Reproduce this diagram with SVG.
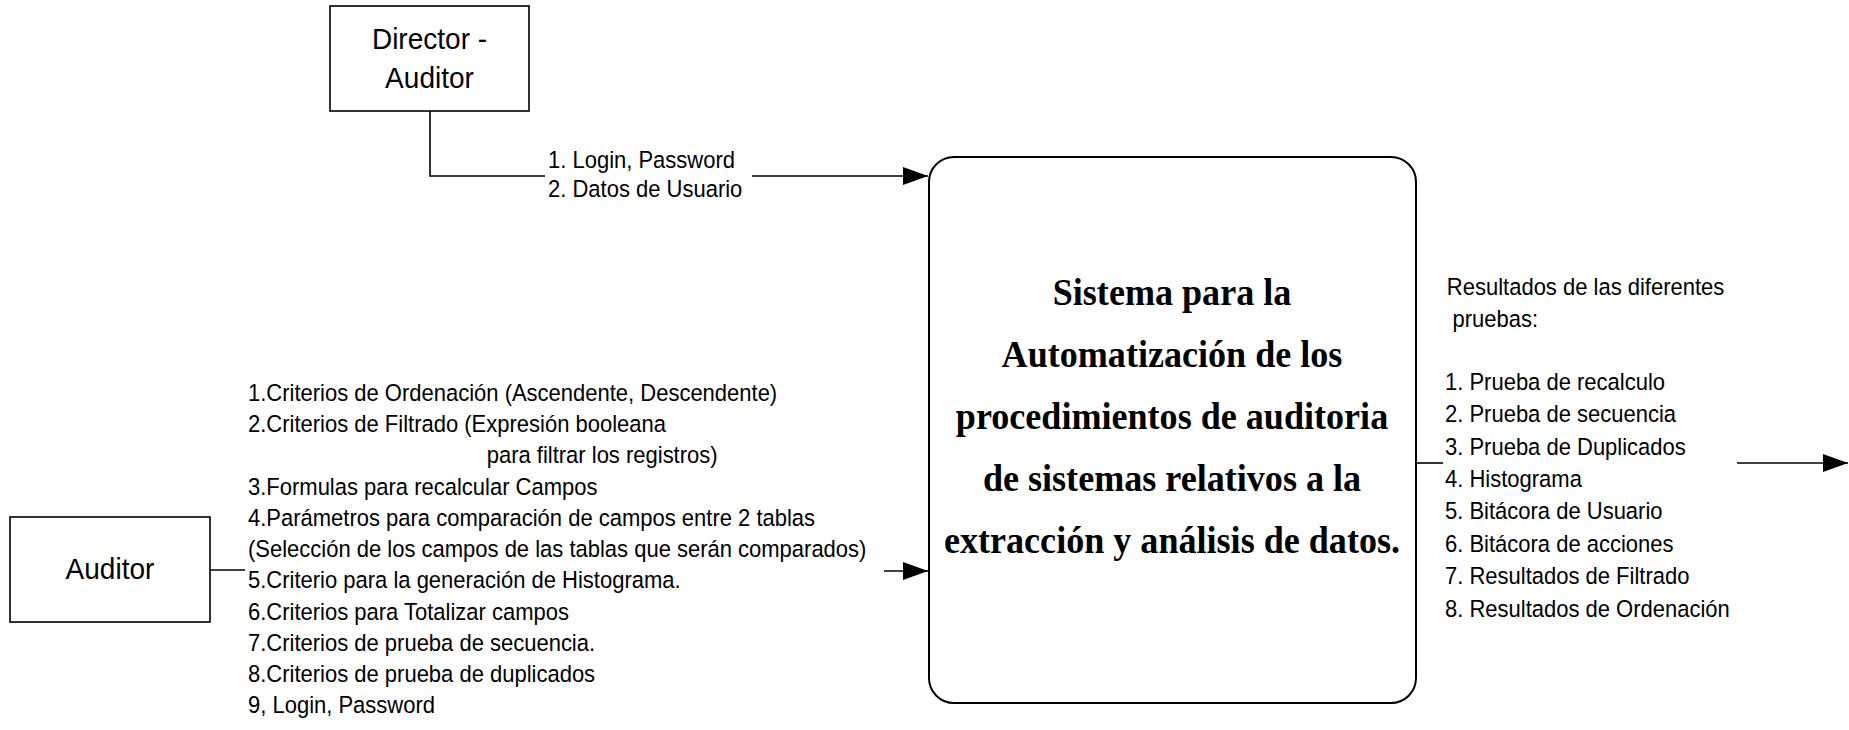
<svg xmlns="http://www.w3.org/2000/svg" width="1849" height="730" viewBox="0 0 1849 730">
<defs>
<style>
.box{fill:#fff;stroke:#000;stroke-width:1.6}
.main{fill:#fff;stroke:#000;stroke-width:2}
.ln{fill:none;stroke:#000;stroke-width:1.6}
.t{font-family:"Liberation Sans",Arial,sans-serif;font-size:23.5px;fill:#000}
.tb{font-family:"Liberation Sans",Arial,sans-serif;font-size:29.5px;fill:#000;text-anchor:middle}
.title{font-family:"Liberation Serif","Times New Roman",serif;font-weight:bold;font-size:38px;fill:#000;text-anchor:middle}
</style>
<marker id="arr" viewBox="0 0 25 18" refX="25" refY="9" markerWidth="25" markerHeight="18" markerUnits="userSpaceOnUse" orient="auto">
<path d="M0,0 L25,9 L0,18 Z" fill="#000"/>
</marker>
</defs>
<rect width="1849" height="730" fill="#fff"/>

<g id="connectors">
<polyline class="ln" points="430,111 430,176 545,176"/>
<line class="ln" x1="752" y1="176" x2="928" y2="176" marker-end="url(#arr)"/>
<line class="ln" x1="210" y1="570" x2="245" y2="570"/>
<line class="ln" x1="884" y1="571" x2="928" y2="571" marker-end="url(#arr)"/>
<line class="ln" x1="1416" y1="463" x2="1443" y2="463"/>
<line class="ln" x1="1737" y1="463" x2="1848" y2="463" marker-end="url(#arr)"/>
<g transform="translate(548,0) scale(0.936,1)">
<text class="t" x="0" y="168">1. Login, Password</text>
<text class="t" x="0" y="197">2. Datos de Usuario</text>
</g>
<g id="auditor-inputs" transform="translate(248,0) scale(0.936,1)">
<text class="t" x="0" y="401">1.Criterios de Ordenación (Ascendente, Descendente)</text>
<text class="t" x="0" y="432">2.Criterios de Filtrado (Expresión booleana</text>
<text class="t" x="255" y="463">para filtrar los registros)</text>
<text class="t" x="0" y="495">3.Formulas para recalcular Campos</text>
<text class="t" x="0" y="526">4.Parámetros para comparación de campos entre 2 tablas</text>
<text class="t" x="0" y="557">(Selección de los campos de las tablas que serán comparados)</text>
<text class="t" x="0" y="588">5.Criterio para la generación de Histograma.</text>
<text class="t" x="0" y="620">6.Criterios para Totalizar campos</text>
<text class="t" x="0" y="651">7.Criterios de prueba de secuencia.</text>
<text class="t" x="0" y="682">8.Criterios de prueba de duplicados</text>
<text class="t" x="0" y="713">9, Login, Password</text>
</g>
<g id="outputs" transform="translate(1445,0) scale(0.936,1)">
<text class="t" x="2" y="295">Resultados de las diferentes</text>
<text class="t" x="8" y="327">pruebas:</text>
<text class="t" x="0" y="390">1. Prueba de recalculo</text>
<text class="t" x="0" y="422">2. Prueba de secuencia</text>
<text class="t" x="0" y="455">3. Prueba de Duplicados</text>
<text class="t" x="0" y="487">4. Histograma</text>
<text class="t" x="0" y="519">5. Bitácora de Usuario</text>
<text class="t" x="0" y="552">6. Bitácora de acciones</text>
<text class="t" x="0" y="584">7. Resultados de Filtrado</text>
<text class="t" x="0" y="617">8. Resultados de Ordenación</text>
</g>
</g>

<g id="director">
<rect class="box" x="330" y="6" width="199" height="105"/>
<g transform="translate(429.5,0) scale(0.95,1)">
<text class="tb" x="0" y="49">Director -</text>
<text class="tb" x="0" y="88">Auditor</text>
</g>
</g>

<g id="auditor">
<rect class="box" x="10" y="517" width="200" height="105"/>
<text class="tb" x="110" y="579" transform="translate(110,0) scale(0.95,1) translate(-110,0)">Auditor</text>
</g>

<g id="sistema">
<rect class="main" x="929" y="157" width="487" height="546" rx="25" ry="25"/>
<g transform="translate(1172,0) scale(0.95,1)">
<text class="title" x="0" y="305">Sistema para la</text>
<text class="title" x="0" y="367">Automatización de los</text>
<text class="title" x="0" y="429">procedimientos de auditoria</text>
<text class="title" x="0" y="491">de sistemas relativos a la</text>
<text class="title" x="0" y="553">extracción y análisis de datos.</text>
</g>
</g>
</svg>
